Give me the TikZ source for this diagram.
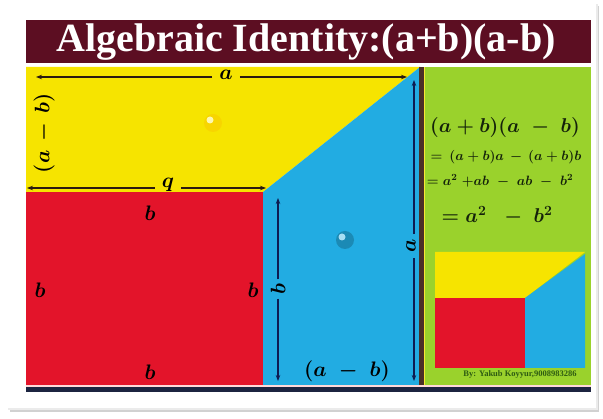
\RequirePackage{fix-cm}
\documentclass[tikz,border=0pt]{standalone}
\usepackage{fontspec}
\setmainfont{Liberation Serif}
\usetikzlibrary{arrows.meta}
\definecolor{cyel}{HTML}{F6E400}
\definecolor{cred}{HTML}{E3142A}
\definecolor{cblue}{HTML}{22ACE2}
\definecolor{cgreen}{HTML}{9AD22C}
\definecolor{cmaroon}{HTML}{5C0E22}
\definecolor{cnavy}{HTML}{1C2440}
\definecolor{cbrown}{HTML}{4A3028}
\definecolor{carrow}{HTML}{2A1A10}
\definecolor{cbarrow}{HTML}{0E1C52}
\definecolor{ctext}{HTML}{14220A}
\definecolor{csig}{HTML}{2E5C12}
\tikzset{
  lbl/.style={font=\fontsize{21}{24}\selectfont\boldmath, text=black, inner sep=1.5pt},
  albl/.style={lbl, inner xsep=7pt, inner ysep=1.5pt},
  eqn/.style={text=ctext, inner sep=0pt},
  darr/.style={draw=carrow, line width=1.1pt, -{Stealth[length=6pt,width=4.5pt]}},
  barr/.style={draw=cbarrow, line width=1.1pt, -{Stealth[length=6pt,width=4.5pt]}},
}
\begin{document}
\begin{tikzpicture}[x=1pt,y=-1pt]
\useasboundingbox (0,0) rectangle (603,419);
\fill[white] (0,0) rectangle (603,419);
% card with shadow
\fill[black!18] (10,6) rectangle (599,412);
\fill[black!8] (8,4) rectangle (598,410);
\fill[white] (7,3) rectangle (596,408);
% title
\fill[cmaroon] (26,20) rectangle (591,63);
\node[text=white, font=\fontsize{40}{44}\selectfont\bfseries] (title) at (306,42) {Algebraic Identity:(a+b)(a-b)};
% main pieces
\fill[cyel] (26,67) -- (420,67) -- (263,192) -- (26,192) -- cycle;
\fill[cblue] (263,192) -- (420,67) -- (420,385) -- (263,385) -- cycle;
\fill[cred] (26,192) rectangle (263,385);
\fill[cbrown] (418.5,67) rectangle (423.5,385);
\fill[cyel!80!white] (423.5,67) rectangle (425,385);
\fill[cgreen] (425,67) rectangle (591,385);
\fill[red!15!white] (26,385) rectangle (591,387.5);
\fill[cnavy] (26,387.5) rectangle (591,392.5);
% bubbles
\fill[cyel!85!orange] (213,123) circle (9);
\fill[white!70!cyel] (210,120) circle (3.5);
\fill[cblue!80!black] (345,240) circle (9);
\fill[cblue!40!white] (342,237) circle (3.5);
% inset
\fill[cyel] (435,252) -- (585,252) -- (525,298) -- (435,298) -- cycle;
\fill[cblue] (525,298) -- (585,254) -- (585,368) -- (525,368) -- cycle;
\fill[cred] (435,298) rectangle (525,368);
\node[text=csig, font=\fontsize{8.5}{9}\selectfont\bfseries, inner sep=0pt] (sig) at (520,374) {By: Yakub Koyyur,9008983286};
% dimension arrows and labels
\coordinate (aL) at (36,77);
\coordinate (aR) at (407,77);
\node[albl] (A) at (226,75) {$a$};
\draw[darr] (A.west |- aL) -- (aL);
\draw[darr] (A.east |- aR) -- (aR);
\coordinate (qL) at (27,188);
\coordinate (qR) at (266,188);
\node[albl] (Q) at (168,185) {$q$};
\draw[darr] (Q.west |- qL) -- (qL);
\draw[darr] (Q.east |- qR) -- (qR);
\node[lbl, rotate=90] (AB1) at (44,133) {$(a\,-\,b)$};
\node[lbl] (b1) at (150,213) {$b$};
\node[lbl] (b2) at (40,290) {$b$};
\node[lbl] (b3) at (253,290) {$b$};
\node[lbl] (b4) at (150,372) {$b$};
\coordinate (bT) at (278,198);
\coordinate (bB) at (278,381);
\node[albl, rotate=90, inner xsep=4pt] (B) at (278,289) {$b$};
\draw[barr] (bT |- B.east) -- (bT);
\draw[barr] (bB |- B.west) -- (bB);
\coordinate (rT) at (414,80);
\coordinate (rB) at (414,381);
\node[albl, rotate=90, inner xsep=5pt] (A2) at (411,246) {$a$};
\draw[barr] (rT |- A2.east) -- (rT);
\draw[barr] (rB |- A2.west) -- (rB);
\node[lbl] (AB2) at (347,371) {$(a\;-\;b)$};
% equations
\node[eqn, font=\fontsize{20}{24}\selectfont\boldmath] (e1) at (505,128) {$(a+b)(a\;-\;b)$};
\node[eqn, font=\fontsize{13.5}{16}\selectfont\boldmath] (e2) at (506,157) {$=\,(a+b)a\,-\,(a+b)b$};
\node[eqn, font=\fontsize{13.5}{16}\selectfont\boldmath] (e3) at (500,181) {$=a^2\;{+}ab\;-\;ab\;-\;b^2$};
\node[eqn, font=\fontsize{20}{24}\selectfont\boldmath] (e4) at (497,216) {$=a^2\;\;-\;b^2$};
\end{tikzpicture}
\end{document}
